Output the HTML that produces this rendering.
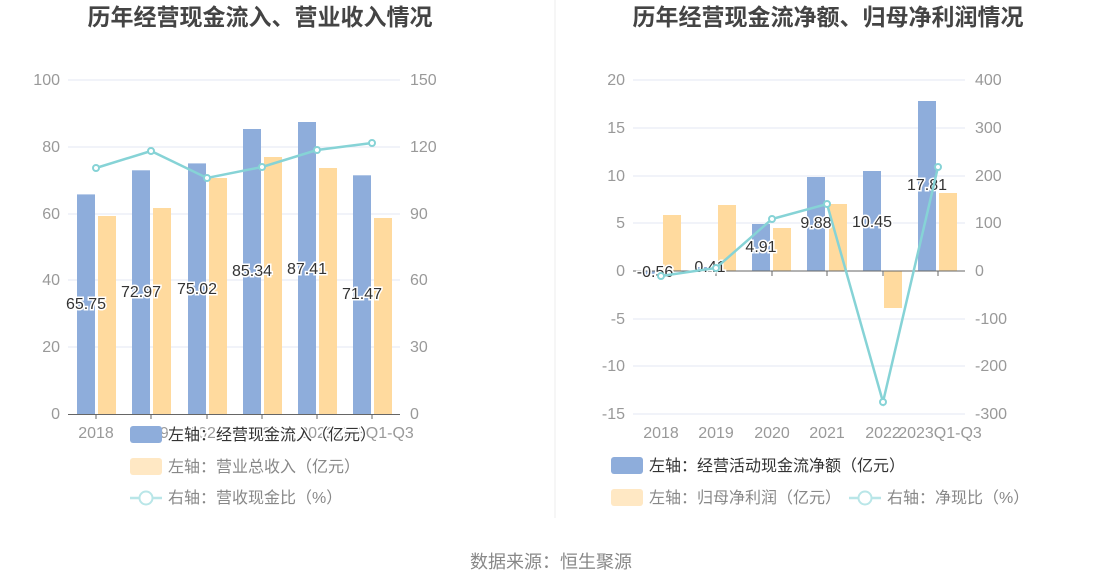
<!DOCTYPE html>
<html><head><meta charset="utf-8">
<style>
html,body{margin:0;padding:0;background:#fff;}
svg{display:block;font-family:"Liberation Sans","Noto Sans CJK SC",sans-serif;}
.ax{fill:#999;font-size:16px;}
.lg{fill:#888;font-size:16px;}
.lab{fill:#333;font-size:16px;stroke:#fff;stroke-width:3;paint-order:stroke;}
.t{fill:#444;font-size:23px;font-weight:bold;}
</style></head><body>
<svg width="1102" height="588" viewBox="0 0 1102 588">
<rect width="1102" height="588" fill="#fff"/>
<text class="t" x="260" y="25" text-anchor="middle">历年经营现金流入、营业收入情况</text>
<text class="t" x="828" y="25" text-anchor="middle">历年经营现金流净额、归母净利润情况</text>
<line x1="555" y1="0" x2="555" y2="518" stroke="#eee"/>

<!-- LEFT CHART -->
<g stroke="#e3e7f3" stroke-width="1">
<line x1="68" y1="80" x2="400" y2="80"/><line x1="68" y1="147" x2="400" y2="147"/>
<line x1="68" y1="214" x2="400" y2="214"/><line x1="68" y1="280" x2="400" y2="280"/>
<line x1="68" y1="347" x2="400" y2="347"/>
</g>
<g class="ax" text-anchor="end">
<text x="60" y="85">100</text><text x="60" y="152">80</text><text x="60" y="219">60</text>
<text x="60" y="285">40</text><text x="60" y="352">20</text><text x="60" y="419">0</text>
</g>
<g class="ax" text-anchor="start">
<text x="410" y="85">150</text><text x="410" y="152">120</text><text x="410" y="219">90</text>
<text x="410" y="285">60</text><text x="410" y="352">30</text><text x="410" y="419">0</text>
</g>
<g fill="#8eaddb">
<rect x="77" y="194.4" width="18" height="219.6"/>
<rect x="132" y="170.3" width="18" height="243.7"/>
<rect x="188" y="163.4" width="18" height="250.6"/>
<rect x="243" y="129" width="18" height="285"/>
<rect x="298" y="122" width="18" height="292"/>
<rect x="353" y="175.3" width="18" height="238.7"/>
</g>
<g fill="#ffda9e">
<rect x="98" y="216" width="18" height="198"/>
<rect x="153" y="208" width="18" height="206"/>
<rect x="209" y="178" width="18" height="236"/>
<rect x="264" y="157" width="18" height="257"/>
<rect x="319" y="168" width="18" height="246"/>
<rect x="374" y="218" width="18" height="196"/>
</g>
<line x1="68" y1="414.5" x2="400" y2="414.5" stroke="#666"/>
<g stroke="#666"><line x1="96" y1="414" x2="96" y2="419"/><line x1="151" y1="414" x2="151" y2="419"/><line x1="207" y1="414" x2="207" y2="419"/><line x1="262" y1="414" x2="262" y2="419"/><line x1="317" y1="414" x2="317" y2="419"/><line x1="372" y1="414" x2="372" y2="419"/></g>
<g class="ax" text-anchor="middle">
<text x="96" y="438">2018</text><text x="151" y="438">2019</text><text x="207" y="438">2020</text>
<text x="262" y="438">2021</text><text x="317" y="438">2022</text><text x="372" y="438">2023Q1-Q3</text>
</g>
<polyline points="96,168 151,151 207,178 262,167 317,150 372,143" fill="none" stroke="#86d3d6" stroke-width="2.5"/>
<g fill="#fff" stroke="#86d3d6" stroke-width="2">
<circle cx="96" cy="168" r="3"/><circle cx="151" cy="151" r="3"/><circle cx="207" cy="178" r="3"/>
<circle cx="262" cy="167" r="3"/><circle cx="317" cy="150" r="3"/><circle cx="372" cy="143" r="3"/>
</g>
<g class="lab" text-anchor="middle">
<text x="86" y="309">65.75</text><text x="141" y="297">72.97</text><text x="197" y="294">75.02</text>
<text x="252" y="276">85.34</text><text x="307" y="274">87.41</text><text x="362" y="299">71.47</text>
</g>
<rect x="130" y="426" width="32" height="17" rx="3" fill="#8eaddb"/>
<text class="lab" x="168" y="440" style="fill:#333">左轴：经营现金流入（亿元）</text>
<rect x="130" y="458" width="32" height="17" rx="3" fill="#ffe8c4"/>
<text class="lg" x="168" y="472">左轴：营业总收入（亿元）</text>
<line x1="130" y1="498" x2="162" y2="498" stroke="#b9e6e8" stroke-width="2.5"/>
<circle cx="146" cy="498" r="6.5" fill="#fff" stroke="#b9e6e8" stroke-width="2"/>
<text class="lg" x="168" y="503">右轴：营收现金比（%）</text>

<!-- RIGHT CHART -->
<g stroke="#e3e7f3" stroke-width="1">
<line x1="633" y1="80" x2="965" y2="80"/><line x1="633" y1="128" x2="965" y2="128"/>
<line x1="633" y1="176" x2="965" y2="176"/><line x1="633" y1="223" x2="965" y2="223"/>
<line x1="633" y1="319" x2="965" y2="319"/><line x1="633" y1="366" x2="965" y2="366"/>
<line x1="633" y1="414" x2="965" y2="414"/>
</g>
<g class="ax" text-anchor="end">
<text x="625" y="85">20</text><text x="625" y="133">15</text><text x="625" y="181">10</text>
<text x="625" y="228">5</text><text x="625" y="276">0</text><text x="625" y="324">-5</text>
<text x="625" y="371">-10</text><text x="625" y="419">-15</text>
</g>
<g class="ax" text-anchor="start">
<text x="975" y="85">400</text><text x="975" y="133">300</text><text x="975" y="181">200</text>
<text x="975" y="228">100</text><text x="975" y="276">0</text><text x="975" y="324">-100</text>
<text x="975" y="371">-200</text><text x="975" y="419">-300</text>
</g>
<g fill="#8eaddb">
<rect x="642" y="271" width="18" height="5.3"/>
<rect x="697" y="267" width="18" height="4"/>
<rect x="752" y="224" width="18" height="47"/>
<rect x="807" y="177" width="18" height="94"/>
<rect x="863" y="171" width="18" height="100"/>
<rect x="918" y="101" width="18" height="170"/>
</g>
<g fill="#ffda9e">
<rect x="663" y="215" width="18" height="56"/>
<rect x="718" y="205" width="18" height="66"/>
<rect x="773" y="228" width="18" height="43"/>
<rect x="829" y="204" width="18" height="67"/>
<rect x="884" y="271" width="18" height="37"/>
<rect x="939" y="193" width="18" height="78"/>
</g>
<line x1="633" y1="271" x2="965" y2="271" stroke="#666"/>
<g stroke="#666"><line x1="661" y1="271" x2="661" y2="276"/><line x1="716" y1="271" x2="716" y2="276"/><line x1="772" y1="271" x2="772" y2="276"/><line x1="827" y1="271" x2="827" y2="276"/><line x1="883" y1="271" x2="883" y2="276"/><line x1="938" y1="271" x2="938" y2="276"/></g>
<g class="ax" text-anchor="middle">
<text x="661" y="438">2018</text><text x="716" y="438">2019</text><text x="772" y="438">2020</text>
<text x="827" y="438">2021</text><text x="883" y="438">2022</text><text x="940" y="438">2023Q1-Q3</text>
</g>
<g class="lab" text-anchor="middle">
<text x="655" y="277">-0.56</text><text x="710" y="272">0.41</text><text x="761" y="252">4.91</text>
<text x="816" y="228">9.88</text><text x="872" y="227">10.45</text><text x="927" y="190">17.81</text>
</g>
<polyline points="661,276 716,268 772,219 827,204 883,402 938,167" fill="none" stroke="#86d3d6" stroke-width="2.5"/>
<g fill="#fff" stroke="#86d3d6" stroke-width="2">
<circle cx="661" cy="276" r="3"/><circle cx="716" cy="268" r="3"/><circle cx="772" cy="219" r="3"/>
<circle cx="827" cy="204" r="3"/><circle cx="883" cy="402" r="3"/><circle cx="938" cy="167" r="3"/>
</g>
<rect x="611" y="457" width="32" height="17" rx="3" fill="#8eaddb"/>
<text class="lg" x="649" y="471" style="fill:#333">左轴：经营活动现金流净额（亿元）</text>
<rect x="611" y="489" width="32" height="17" rx="3" fill="#ffe8c4"/>
<text class="lg" x="649" y="503">左轴：归母净利润（亿元）</text>
<line x1="849" y1="498" x2="881" y2="498" stroke="#b9e6e8" stroke-width="2.5"/>
<circle cx="865" cy="498" r="6.5" fill="#fff" stroke="#b9e6e8" stroke-width="2"/>
<text class="lg" x="887" y="503">右轴：净现比（%）</text>

<text x="551" y="568" text-anchor="middle" style="fill:#888;font-size:18px">数据来源：恒生聚源</text>
</svg>
</body></html>
